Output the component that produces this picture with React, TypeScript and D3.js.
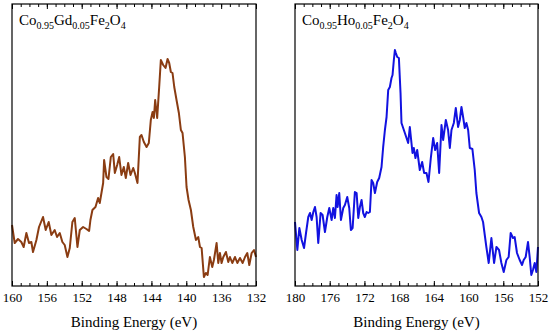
import { useRef, useEffect } from 'react'
import * as d3 from 'd3'

// Gd 4d region (left panel)
const gdEnergy = [
  160.0, 159.69, 159.31, 158.93, 158.66, 158.35, 158.05, 157.78, 157.59, 157.2,
  156.9, 156.44, 156.13, 155.79, 155.48, 155.1, 154.83, 154.52, 154.22, 153.95,
  153.64, 153.37, 153.07, 152.8, 152.49, 152.22, 151.84, 151.46, 151.15, 151.0,
  150.77, 150.42, 150.12, 149.93, 149.54, 149.43, 149.16, 148.93, 148.66, 148.39,
  148.2, 147.93, 147.7, 147.44, 147.17, 146.94, 146.67, 146.4, 146.09, 145.9,
  145.6, 145.33, 145.14, 144.87, 144.56, 144.3, 144.07, 143.87, 143.72, 143.57,
  143.34, 143.11, 142.92, 142.65, 142.38, 142.15, 141.96, 141.77, 141.58, 141.38,
  141.12, 140.85, 140.62, 140.43, 140.16, 139.97, 139.74, 139.47, 139.2, 138.89,
  138.63, 138.43, 138.24, 137.98, 137.75, 137.55, 137.29, 137.02, 136.83, 136.52,
  136.33, 136.14, 135.95, 135.75, 135.45, 135.18, 134.99, 134.72, 134.41, 134.14,
  133.84, 133.53, 133.26, 133.0, 132.77, 132.5, 132.23, 132.0,
]
const gdCounts = [
  61, 43, 47, 44, 39, 53, 43, 44, 34, 46,
  59, 69, 56, 64, 51, 56, 49, 53, 44, 41,
  29, 38, 64, 68, 39, 56, 59, 57, 55, 66,
  76, 79, 88, 83, 103, 126, 109, 107, 129, 132,
  113, 121, 129, 111, 119, 108, 123, 111, 118, 113,
  103, 149, 151, 144, 139, 143, 166, 174, 168, 186,
  168, 199, 226, 221, 218, 227, 223, 214, 213, 199,
  186, 173, 156, 153, 129, 99, 86, 76, 59, 46,
  49, 39, 38, 9, 13, 11, 29, 19, 26, 43,
  23, 33, 23, 29, 34, 24, 29, 23, 29, 23,
  28, 23, 29, 33, 21, 33, 36, 29,
]

// Ho 4d region (right panel)
const hoEnergy = [
  180.0, 179.73, 179.5, 179.23, 178.96, 178.73, 178.47, 178.27, 178.08, 177.89,
  177.7, 177.51, 177.32, 177.05, 176.82, 176.55, 176.28, 176.05, 175.78, 175.59,
  175.4, 175.21, 175.09, 174.9, 174.71, 174.44, 174.25, 173.98, 173.75, 173.56,
  173.36, 173.1, 172.9, 172.71, 172.52, 172.33, 172.14, 171.95, 171.75, 171.56,
  171.37, 171.18, 170.99, 170.79, 170.53, 170.3, 170.03, 169.84, 169.64, 169.45,
  169.26, 169.07, 168.88, 168.76, 168.61, 168.49, 168.38, 168.22, 168.03, 167.84,
  167.73, 167.34, 166.96, 166.77, 166.46, 166.31, 166.12, 165.92, 165.62, 165.35,
  165.12, 164.85, 164.62, 164.35, 164.08, 163.85, 163.62, 163.39, 163.12, 162.93,
  162.62, 162.36, 162.16, 161.97, 161.7, 161.47, 161.21, 161.01, 160.82, 160.63,
  160.44, 160.25, 160.05, 159.86, 159.56, 159.29, 159.1, 158.79, 158.52, 158.33,
  158.21, 157.95, 157.68, 157.37, 157.06, 156.79, 156.49, 156.22, 155.95, 155.64,
  155.38, 155.15, 154.88, 154.69, 154.42, 154.11, 153.84, 153.65, 153.42, 153.15,
  152.96, 152.77, 152.58, 152.38, 152.19, 152.0,
]
const hoCounts = [
  64, 36, 58, 46, 38, 53, 69, 73, 66, 74,
  79, 69, 43, 73, 71, 54, 69, 78, 66, 78,
  68, 91, 79, 93, 66, 78, 81, 89, 78, 56,
  58, 94, 93, 68, 79, 86, 73, 69, 74, 73,
  74, 106, 103, 93, 104, 108, 119, 139, 156, 169,
  196, 199, 208, 211, 226, 236, 233, 229, 228, 193,
  163, 153, 143, 159, 133, 138, 128, 136, 116, 124,
  113, 113, 104, 128, 148, 136, 143, 113, 161, 146,
  166, 156, 138, 156, 163, 178, 159, 166, 179, 169,
  158, 163, 156, 138, 137, 116, 93, 73, 69, 64,
  56, 39, 23, 48, 23, 39, 36, 23, 14, 26,
  29, 53, 48, 49, 33, 26, 21, 26, 29, 44,
  29, 11, 16, 23, 14, 39,
]

const gdDomain = [160, 132]
const hoDomain = [180, 152]
const gdLabel = [['Co', '0.95'], ['Gd', '0.05'], ['Fe', '2'], ['O', '4']]
const hoLabel = [['Co', '0.95'], ['Ho', '0.05'], ['Fe', '2'], ['O', '4']]

const top = 4
const bottom = 286
const font = 'Liberation Serif'

type PanelProps = {
  energy: number[]
  counts: number[]
  domain: number[]
  label: string[][]
  color: string
  left: number
  right: number
}

const Panel = ({ energy, counts, domain, label, color, left, right }: PanelProps) => {
  const axisRef = useRef<SVGGElement>(null)

  const x = d3.scaleLinear().domain(domain).range([left, right])
  const y = d3.scaleLinear().domain([0, 282]).range([bottom, top])

  const line = d3
    .line<number>()
    .x((_, i) => x(energy[i]))
    .y((d) => y(d))

  useEffect(() => {
    const g = d3.select(axisRef.current as SVGGElement)
    g.selectAll('*').remove()
    const major = d3.range(domain[1], domain[0] + 0.1, 4)
    const minor = d3.range(domain[1], domain[0] + 0.1, 1)

    g.append('g')
      .attr('transform', `translate(0,${bottom})`)
      .call(d3.axisBottom(x).tickValues(minor).tickSize(-3).tickSizeOuter(0).tickFormat(() => ''))
    g.append('g')
      .attr('transform', `translate(0,${bottom})`)
      .call(d3.axisBottom(x).tickValues(major).tickSize(-5).tickSizeOuter(0).tickPadding(7).tickFormat(d3.format('d')))
    g.append('g')
      .attr('transform', `translate(0,${top})`)
      .call(d3.axisTop(x).tickValues(minor).tickSize(-3).tickSizeOuter(0).tickFormat(() => ''))
    g.append('g')
      .attr('transform', `translate(0,${top})`)
      .call(d3.axisTop(x).tickValues(major).tickSize(-5).tickSizeOuter(0).tickFormat(() => ''))

    g.selectAll('.domain').remove()
    g.selectAll('g').attr('font-family', font)
    g.selectAll('.tick text')
      .attr('font-family', font)
      .attr('font-size', 13)
      .attr('fill', '#000')
    g.selectAll('line').attr('stroke', '#000')
  }, [])

  return (
    <g fontFamily={font}>
      <path d={line(counts) || ''} fill="none" stroke={color} strokeWidth={2} strokeLinejoin="round" />
      <rect x={left} y={top} width={right - left} height={bottom - top} fill="none" stroke="#000" strokeWidth={1.2} />
      <g ref={axisRef} />
      <text x={left + 7} y={25} fontFamily={font} fontSize={15} fill="#000">
        {label.map(([el, sub], i) => (
          <tspan key={i} fontFamily={font}>
            <tspan fontFamily={font} fontSize={15} dy={i === 0 ? 0 : -4}>{el}</tspan>
            <tspan fontFamily={font} fontSize={10} dy={4}>{sub}</tspan>
          </tspan>
        ))}
      </text>
      <text x={(left + right) / 2} y={327} textAnchor="middle" fontFamily={font} fontSize={15} fill="#000">
        Binding Energy (eV)
      </text>
    </g>
  )
}

export default function App() {
  return (
    <div style={{ position: 'absolute', left: 0, top: 0 }}>
      <svg width={550} height={333} fontFamily={font} style={{ display: 'block', background: '#fff' }}>
        <Panel energy={gdEnergy} counts={gdCounts} domain={gdDomain} label={gdLabel} color="#8a3c12" left={12} right={256} />
        <Panel energy={hoEnergy} counts={hoCounts} domain={hoDomain} label={hoLabel} color="#1212e0" left={295} right={538} />
      </svg>
    </div>
  )
}
